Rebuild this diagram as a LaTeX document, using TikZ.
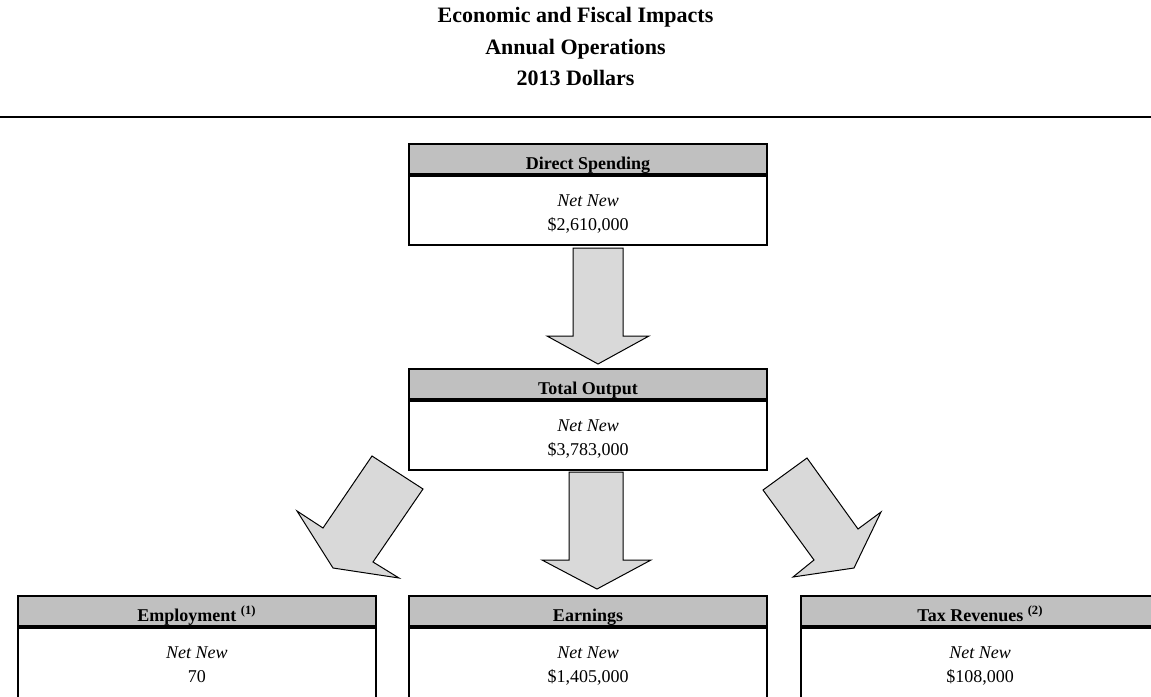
\documentclass[tikz,border=0pt]{standalone}
\usepackage{fontspec}
\setmainfont{Liberation Serif}
\usetikzlibrary{positioning}
\definecolor{hdrgray}{RGB}{192,192,192}
\definecolor{arrgray}{RGB}{217,217,217}
\newcommand{\NN}{\textit{Net New}}

\begin{document}
\begin{tikzpicture}[x=1pt, y=-1pt,
  title/.style={anchor=base, font=\bfseries\fontsize{22}{26}\selectfont},
  hdr/.style={draw, line width=2.2pt, fill=hdrgray, minimum width=358pt, inner sep=0pt,
    text height=25pt, text depth=5pt, font=\bfseries\fontsize{18}{22}\selectfont},
  bdy/.style={draw, line width=2.2pt, minimum width=358pt, inner sep=0pt, align=center,
    text height=54pt, text depth=15pt, font=\fontsize{18}{24}\selectfont},
  blk/.style={draw, line width=1pt, fill=arrgray, line join=miter}]
\useasboundingbox (0,0) rectangle (1151,696);
\clip (0,0) rectangle (1151,696);
%%%%%%%%% title
\node[title] (t1) at (575.5,23) {Economic and Fiscal Impacts};
\node[title] (t2) at (575.5,54) {Annual Operations};
\node[title] (t3) at (575.5,85) {2013 Dollars};
\draw [line width=2pt] (0,117) -- (1151,117);
%%%%%%%%% boxes
\node[hdr] (dirH) at (588,159) {Direct Spending};
\node[bdy, below=0pt of dirH] (dirB) {\NN\\\$2,610,000};
\node[hdr] (totH) at (588,384) {Total Output};
\node[bdy, below=0pt of totH] (totB) {\NN\\\$3,783,000};
\node[hdr] (ernH) at (588,611) {Earnings};
\node[bdy, below=0pt of ernH, text depth=30pt] (ernB) {\NN\\\$1,405,000};
\node[hdr, left=31pt of ernH] (empH) {Employment \textsuperscript{(1)}};
\node[bdy, below=0pt of empH, text depth=30pt] (empB) {\NN\\70};
\node[hdr, right=32pt of ernH] (taxH) {Tax Revenues \textsuperscript{(2)}};
\node[bdy, below=0pt of taxH, text depth=30pt] (taxB) {\NN\\\$108,000};
%%%%%%%%% block arrows
\draw [blk] (573,248) -- (623,248) -- (623,336) -- (649,336) -- (598,364) -- (547,336) -- (573,336) -- cycle;
\draw [blk] (569,472) -- (623,472) -- (623,560) -- (651,560) -- (597,589) -- (542,560) -- (569,560) -- cycle;
\draw [blk] (372,456) -- (423,489) -- (373,562) -- (399,578) -- (333,568) -- (297,511) -- (323,528) -- cycle;
\draw [blk] (807,458) -- (763,490) -- (814,560) -- (793,577) -- (854,568) -- (881,512) -- (858,529) -- cycle;
\end{tikzpicture}
\end{document}
